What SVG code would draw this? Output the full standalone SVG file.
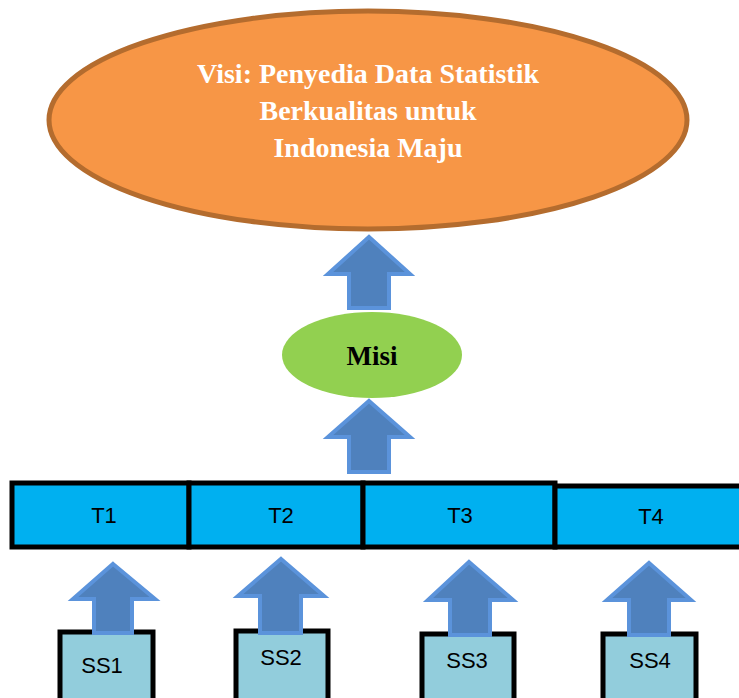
<svg xmlns="http://www.w3.org/2000/svg" width="739" height="698" viewBox="0 0 739 698">
<style>
.arrow{fill:#4F81BD;stroke:#5B93DB;stroke-width:4;stroke-linejoin:miter}
.tbox{fill:#00B0F0;stroke:#000;stroke-width:5}
.ssbox{fill:#92CDDC;stroke:#000;stroke-width:5}
.lbl{font-family:"Liberation Sans",Arial,sans-serif;font-size:22px;fill:#000;text-anchor:middle}
.visi{font-family:"Liberation Serif","Times New Roman",serif;font-weight:bold;font-size:28px;fill:#fff;text-anchor:middle}
.misi{font-family:"Liberation Serif","Times New Roman",serif;font-weight:bold;font-size:27px;fill:#000;text-anchor:middle}
</style>
<rect width="739" height="698" fill="#fff"/>
<g id="visi">
<ellipse cx="368" cy="120" rx="319" ry="109" fill="#F79646" stroke="#B46C2E" stroke-width="5"/>
<text class="visi" x="368" y="83">Visi: Penyedia Data Statistik</text>
<text class="visi" x="368" y="120">Berkualitas untuk</text>
<text class="visi" x="368" y="157">Indonesia Maju</text>
</g>
<g id="misi">
<ellipse cx="372" cy="355" rx="90" ry="43" fill="#92D050"/>
<text class="misi" x="372" y="365">Misi</text>
</g>
<g id="t1"><rect class="tbox" x="12" y="483" width="177" height="64"/><text class="lbl" x="104" y="523">T1</text></g>
<g id="t2"><rect class="tbox" x="189" y="483" width="174" height="64"/><text class="lbl" x="281" y="523">T2</text></g>
<g id="t3"><rect class="tbox" x="363" y="483" width="192" height="64"/><text class="lbl" x="460" y="523">T3</text></g>
<g id="t4"><rect class="tbox" x="555" y="486" width="190" height="61"/><text class="lbl" x="651" y="524">T4</text></g>
<g id="ss1"><rect class="ssbox" x="60" y="632" width="93" height="70"/><text class="lbl" x="102" y="673">SS1</text></g>
<g id="ss2"><rect class="ssbox" x="236" y="631" width="92" height="70"/><text class="lbl" x="281" y="665">SS2</text></g>
<g id="ss3"><rect class="ssbox" x="422" y="634" width="92" height="70"/><text class="lbl" x="467" y="668">SS3</text></g>
<g id="ss4"><rect class="ssbox" x="603" y="634" width="93" height="70"/><text class="lbl" x="650" y="668">SS4</text></g>
<g id="connectors">
<polygon class="arrow" points="369,237 410,274 389,274 389,308 349,308 349,274 328,274"/>
<polygon class="arrow" points="369,401 410,437 389,437 389,472 349,472 349,437 328,437"/>
<polygon class="arrow" points="113,564 155,599 132,599 132,633 94,633 94,599 73,599"/>
<polygon class="arrow" points="281,559 324,596 301,596 301,633 260,633 260,596 238,596"/>
<polygon class="arrow" points="469,562 513,600 490,600 490,635 450,635 450,600 428,600"/>
<polygon class="arrow" points="649,563 691,600 669,600 669,635 629,635 629,600 607,600"/>
</g>
</svg>
